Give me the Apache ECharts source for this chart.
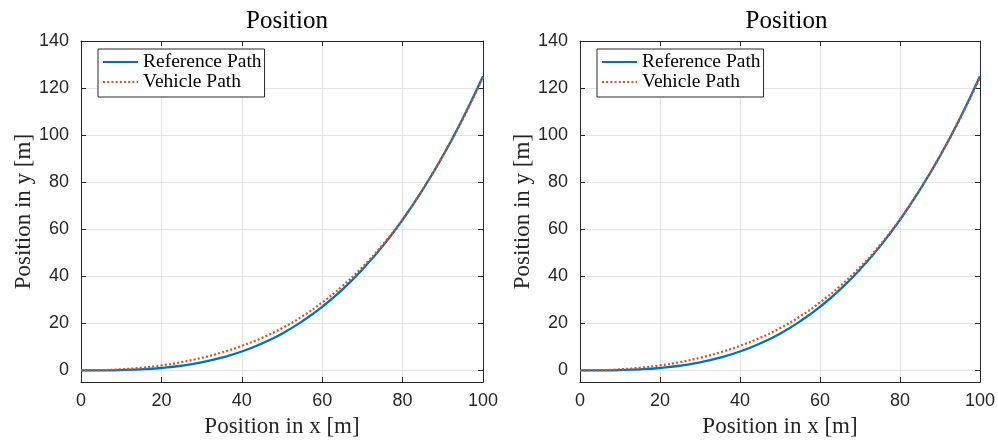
<!DOCTYPE html>
<html>
<head>
<meta charset="utf-8">
<title>Position</title>
<script src="https://cdn.jsdelivr.net/npm/echarts@6/dist/echarts.min.js"></script>
<style>
  html, body { margin: 0; padding: 0; background: #fff; }
  #chart { width: 998px; height: 443px; }
</style>
</head>
<body>
<div id="chart"></div>
<script>
// Sample positions along the path (x in metres)
const xPos = [0, 5, 10, 15, 20, 25, 30, 35, 40, 45, 50, 55, 60, 65, 70, 75, 80, 85, 90, 95, 100];
// Desired path, y in metres
const referenceY = [0, 0.02, 0.13, 0.42, 1.0, 1.95, 3.4, 5.4, 8.0, 11.4, 15.6, 20.8, 27.0, 34.3, 42.9, 52.7, 64.0, 76.8, 91.1, 107.2, 125.0];
// Tracked path of the vehicle, y in metres
const vehicleY = [0, 0.1, 0.45, 1.1, 2.1, 3.5, 5.3, 7.6, 10.4, 13.8, 17.9, 22.9, 28.9, 35.8, 43.9, 53.3, 64.3, 77.0, 91.1, 106.9, 124.5];
// Tick values
const xTicks = [0, 20, 40, 60, 80, 100];
const yTicks = [0, 20, 40, 60, 80, 100, 120, 140];

const titleText = 'Position';
const xName = 'Position in x [m]';
const yName = 'Position in y [m]';
const refName = 'Reference Path';
const vehName = 'Vehicle Path';

const AX = '#262626';
const GRID = '#e3e3e3';
const SANS = '"Liberation Sans", Arial, Helvetica, sans-serif';
const SERIF = '"Liberation Serif", "Times New Roman", serif';

const pairs = (xs, ys) => xs.map((x, i) => [x, ys[i]]);

const panels = [
  { left: 81, right: 515 },
  { left: 580, right: 15 }
];

const option = {
  backgroundColor: '#fff',
  animation: false,
  title: [], grid: [], xAxis: [], yAxis: [], series: [], legend: []
};

panels.forEach((p, k) => {
  const centre = p.left + (998 - p.left - p.right) / 2;
  option.title.push({
    text: titleText,
    left: centre, top: 4,
    textAlign: 'center',
    textStyle: { fontFamily: SERIF, fontSize: 25, fontWeight: 'normal', color: '#000' }
  });
  option.grid.push({ left: p.left, right: p.right, top: 41, bottom: 58, containLabel: false });

  const tickStyle = { show: true, inside: true, length: 5, lineStyle: { color: AX, width: 1 } };
  const lineStyle = { show: true, onZero: false, lineStyle: { color: AX, width: 1 } };

  // bottom x axis
  option.xAxis.push({
    type: 'value', gridIndex: k, position: 'bottom',
    min: 0, max: 100, interval: 20,
    name: xName, nameLocation: 'middle', nameGap: 30,
    nameTextStyle: { fontFamily: SERIF, fontSize: 23, color: AX },
    axisLine: lineStyle, axisTick: tickStyle,
    axisLabel: { color: AX, fontFamily: SANS, fontSize: 18, margin: 10 },
    splitLine: { show: true, lineStyle: { color: GRID, width: 1 } }
  });
  // top x axis (box edge)
  option.xAxis.push({
    type: 'value', gridIndex: k, position: 'top',
    min: 0, max: 100, interval: 20,
    axisLine: lineStyle, axisTick: tickStyle,
    axisLabel: { show: false }, splitLine: { show: false }
  });
  // left y axis
  option.yAxis.push({
    type: 'value', gridIndex: k, position: 'left',
    min: -5, max: 140,
    name: yName, nameLocation: 'middle', nameGap: 45, nameRotate: 90,
    nameTextStyle: { fontFamily: SERIF, fontSize: 23, color: AX },
    axisLine: lineStyle,
    axisTick: Object.assign({}, tickStyle, { customValues: yTicks }),
    axisLabel: { color: AX, fontFamily: SANS, fontSize: 18, margin: 12, customValues: yTicks },
    splitLine: { show: true, lineStyle: { color: GRID, width: 1 } }
  });
  // right y axis (box edge)
  option.yAxis.push({
    type: 'value', gridIndex: k, position: 'right',
    min: -5, max: 140,
    axisLine: lineStyle,
    axisTick: Object.assign({}, tickStyle, { customValues: yTicks }),
    axisLabel: { show: false, customValues: yTicks },
    splitLine: { show: false }
  });

  option.series.push({
    name: refName, type: 'line', xAxisIndex: 2 * k, yAxisIndex: 2 * k,
    data: pairs(xPos, referenceY), smooth: true, symbol: 'none',
    lineStyle: { color: '#0072BD', width: 2.3 }, itemStyle: { color: '#0072BD' }, z: 3
  });
  option.series.push({
    name: vehName, type: 'line', xAxisIndex: 2 * k, yAxisIndex: 2 * k,
    data: pairs(xPos, vehicleY), smooth: true, symbol: 'none',
    lineStyle: { color: '#D95319', width: 2.2, type: [2, 2.2] }, itemStyle: { color: '#D95319' }, z: 4
  });

  option.legend.push({
    data: [refName, vehName],
    orient: 'vertical',
    left: p.left + 17, top: 49,
    padding: [3, 3, 5, 4],
    itemGap: 0,
    itemWidth: 35, itemHeight: 14,
    itemStyle: { opacity: 0 },
    backgroundColor: '#fff',
    borderColor: AX, borderWidth: 1,
    selectedMode: false,
    textStyle: { fontFamily: SERIF, fontSize: 19.5, color: '#000', lineHeight: 20 }
  });
});

const chart = echarts.init(document.getElementById('chart'), null, { renderer: 'canvas' });
chart.setOption(option);
</script>
</body>
</html>
